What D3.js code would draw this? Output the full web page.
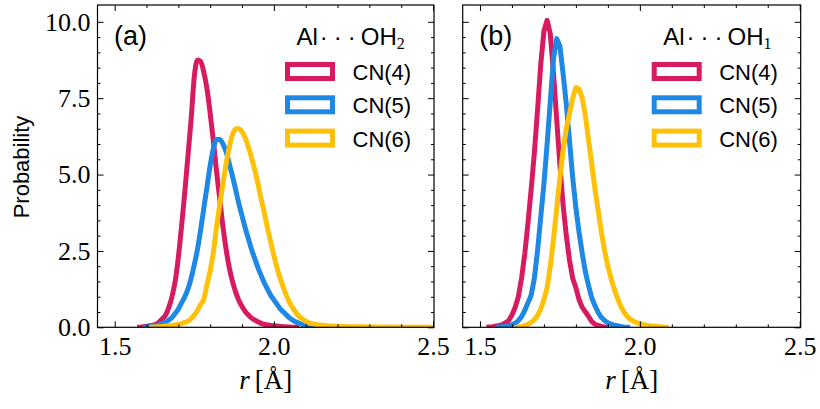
<!DOCTYPE html>
<html lang="en">
<head>
<meta charset="UTF-8">
<title>Al-O distance distributions</title>
<script src="https://d3js.org/d3.v7.min.js"></script>
<style>
  body { margin: 0; background: white; }
  .serif { font-family: "Liberation Serif", "DejaVu Serif", serif; fill: #000; }
  .sans { font-family: "Liberation Sans", Arial, sans-serif; fill: #000; }
</style>
</head>
<body>
<div id="chart"></div>
<script>
// ---- data (probability per 0.01 A bin) ----
const binWidth = 0.01;
const seriesLabels = ["CN(4)", "CN(5)", "CN(6)"];
const xTicks = [1.5, 2.0, 2.5];
const yTicks = [0, 2.5, 5, 7.5, 10];

// panel (a): Al...OH2
const aStarts = [1.58, 1.60, 1.62];
const aEnds = [2.07, 2.16, 2.55];
const aCN4 = [0.0, 0.02, 0.03, 0.05, 0.07, 0.1, 0.18, 0.28, 0.4, 0.65, 1.0, 1.5, 2.3, 3.3, 4.4, 5.6, 6.8,
  8.2, 8.75, 8.7, 8.35, 7.8, 7.0, 6.1, 5.1, 4.2, 3.3, 2.55, 1.95, 1.5, 1.15, 0.88, 0.68, 0.52, 0.4, 0.3,
  0.24, 0.18, 0.13, 0.1, 0.08, 0.06, 0.05, 0.04, 0.03, 0.02, 0.02, 0.01, 0.0];
const aCN5 = [0.01, 0.02, 0.04, 0.06, 0.08, 0.12, 0.17, 0.24, 0.32, 0.45, 0.6, 0.8, 1.0, 1.25, 1.6, 2.05,
  2.55, 3.2, 3.9, 4.6, 5.3, 5.85, 6.15, 6.15, 6.0, 5.75, 5.35, 4.95, 4.5, 4.05, 3.65, 3.25, 2.9, 2.55,
  2.25, 1.95, 1.7, 1.45, 1.25, 1.05, 0.9, 0.75, 0.6, 0.5, 0.4, 0.3, 0.23, 0.17, 0.13, 0.09, 0.06, 0.04,
  0.03, 0.02, 0.01, 0.0];
const aCN6 = [0.01, 0.01, 0.02, 0.03, 0.04, 0.05, 0.06, 0.08, 0.1, 0.12, 0.16, 0.2, 0.28, 0.4, 0.55, 0.75,
  0.92, 1.4, 1.85, 2.45, 3.3, 4.0, 4.7, 5.35, 5.9, 6.3, 6.5, 6.5, 6.4, 6.2, 5.9, 5.55, 5.15, 4.7, 4.2,
  3.75, 3.25, 2.8, 2.35, 1.95, 1.6, 1.3, 1.02, 0.8, 0.62, 0.47, 0.35, 0.27, 0.2, 0.15, 0.12, 0.1, 0.08,
  0.07, 0.06, 0.05, 0.04, 0.04, 0.03, 0.03, 0.03, 0.02, 0.02, 0.02, 0.02, 0.02, 0.02, 0.01, 0.01];

// panel (b): Al...OH1
const bStarts = [1.53, 1.56, 1.62];
const bEnds = [1.89, 1.96, 2.08];
const bCN4 = [0.01, 0.02, 0.04, 0.06, 0.09, 0.15, 0.22, 0.4, 0.65, 1.0, 1.6, 2.4, 3.4, 4.5, 5.7, 7.1, 8.6,
  9.7, 10.05, 9.6, 8.3, 6.8, 5.3, 4.0, 3.0, 2.2, 1.6, 1.3, 0.9, 0.65, 0.5, 0.35, 0.18, 0.1, 0.06, 0.03, 0.01];
const bCN5 = [0.01, 0.02, 0.04, 0.06, 0.08, 0.13, 0.22, 0.35, 0.55, 0.8, 1.05, 1.6, 2.5, 3.6, 4.7, 6.0, 7.4,
  8.8, 9.45, 9.2, 8.3, 7.3, 6.1, 4.9, 3.9, 3.1, 2.4, 1.8, 1.35, 0.95, 0.7, 0.48, 0.32, 0.22, 0.15, 0.1,
  0.07, 0.05, 0.03, 0.01];
const bCN6 = [0.01, 0.03, 0.06, 0.1, 0.16, 0.25, 0.38, 0.6, 0.9, 1.3, 2.0, 2.9, 3.9, 4.9, 5.8, 6.5, 7.0, 7.5,
  7.85, 7.8, 7.5, 6.9, 6.1, 5.3, 4.5, 3.8, 3.1, 2.5, 2.0, 1.6, 1.25, 0.95, 0.7, 0.5, 0.36, 0.26, 0.2,
  0.15, 0.12, 0.09, 0.07, 0.05, 0.04, 0.03, 0.02, 0.01];

const colors = ["#D81B60", "#1E88E5", "#FFC107"];

// ---- layout ----
const W = 820, H = 409;
const plotTop = 5, plotBottom = 327.3;
const xDomain = [1.446, 2.503];
const yDomain = [0, 10.55];

const svg = d3.select("#chart").append("svg")
  .attr("width", W).attr("height", H)
  .attr("viewBox", [0, 0, W, H]);

// turn a bin array into points, with zero at both ends
function toPoints(start, end, values) {
  const pts = [[start - binWidth, 0]];
  values.forEach((v, i) => pts.push([start + i * binWidth, v]));
  const last = start + (values.length - 1) * binWidth;
  if (end > last) pts.push([end, 0]);
  pts.push([end + binWidth, 0]);
  return pts;
}

function drawPanel(cfg) {
  const x = d3.scaleLinear().domain(xDomain).range([cfg.left, cfg.right]);
  const y = d3.scaleLinear().domain(yDomain).range([plotBottom, plotTop]);
  const g = svg.append("g");

  g.append("clipPath").attr("id", "clip-" + cfg.id)
    .append("rect")
    .attr("x", cfg.left).attr("y", plotTop)
    .attr("width", cfg.right - cfg.left).attr("height", plotBottom - plotTop);

  const line = d3.line()
    .x(d => x(d[0])).y(d => y(d[1]))
    .curve(cfg.curve);

  g.append("g").attr("clip-path", `url(#clip-${cfg.id})`)
    .selectAll("path")
    .data(cfg.series)
    .join("path")
    .attr("d", (s, i) => line(toPoints(cfg.starts[i], cfg.ends[i], s)))
    .attr("fill", "none")
    .attr("stroke", (s, i) => colors[i])
    .attr("stroke-width", 5)
    .attr("stroke-linejoin", "round");

  // ticks, all pointing inward
  const xMinor = d3.range(15, 26).map(v => v / 10).filter(v => !xTicks.includes(v));
  const yMinor = d3.range(0, 21).map(v => v / 2).filter(v => !yTicks.includes(v));
  const fmt = d3.format(".1f");

  const styleAxis = a => {
    a.select(".domain").remove();
    a.selectAll("line").attr("stroke", "#000").attr("stroke-width", 1);
    a.attr("font-family", null).attr("font-size", null);
  };

  const gxb = g.append("g").attr("transform", `translate(0,${plotBottom})`)
    .call(d3.axisBottom(x).tickValues(xTicks).tickSize(-6).tickPadding(9).tickFormat(fmt));
  gxb.selectAll("text").attr("class", "serif").attr("font-size", 26);
  styleAxis(gxb);
  styleAxis(g.append("g").attr("transform", `translate(0,${plotBottom})`)
    .call(d3.axisBottom(x).tickValues(xMinor).tickSize(-3).tickFormat("")));
  styleAxis(g.append("g").attr("transform", `translate(0,${plotTop})`)
    .call(d3.axisTop(x).tickValues(xTicks).tickSize(-6).tickFormat("")));
  styleAxis(g.append("g").attr("transform", `translate(0,${plotTop})`)
    .call(d3.axisTop(x).tickValues(xMinor).tickSize(-3).tickFormat("")));

  const gyl = g.append("g").attr("transform", `translate(${cfg.left},0)`)
    .call(d3.axisLeft(y).tickValues(yTicks).tickSize(-6).tickPadding(7)
      .tickFormat(cfg.yLabels ? fmt : ""));
  gyl.selectAll("text").attr("class", "serif").attr("font-size", 26);
  styleAxis(gyl);
  styleAxis(g.append("g").attr("transform", `translate(${cfg.left},0)`)
    .call(d3.axisLeft(y).tickValues(yMinor).tickSize(-3).tickFormat("")));
  styleAxis(g.append("g").attr("transform", `translate(${cfg.right},0)`)
    .call(d3.axisRight(y).tickValues(yTicks).tickSize(-6).tickFormat("")));
  styleAxis(g.append("g").attr("transform", `translate(${cfg.right},0)`)
    .call(d3.axisRight(y).tickValues(yMinor).tickSize(-3).tickFormat("")));

  // frame
  g.append("rect")
    .attr("x", cfg.left).attr("y", plotTop)
    .attr("width", cfg.right - cfg.left).attr("height", plotBottom - plotTop)
    .attr("fill", "none").attr("stroke", "#000").attr("stroke-width", 1.2);

  // panel letter
  g.append("text").attr("class", "sans")
    .attr("x", cfg.left + 16.5).attr("y", 45)
    .attr("font-size", 27)
    .text(cfg.letter);

  // legend title Al...OHn
  const t = g.append("text").attr("class", "sans")
    .attr("x", cfg.right - 137.5).attr("y", 45)
    .attr("font-size", 24);
  t.append("tspan").text("Al");
  t.append("tspan").attr("dx", 2).attr("letter-spacing", 6).text("···");
  t.append("tspan").attr("dx", -1).text("OH");
  t.append("tspan").attr("class", "serif").attr("font-size", 16).attr("dy", 3.5).text(cfg.sub);

  // legend entries
  const rowY = i => plotTop + 59.5 + i * 33.3;
  g.selectAll("rect.leg")
    .data(seriesLabels)
    .join("rect")
    .attr("class", "leg")
    .attr("x", cfg.right - 146.5).attr("y", (d, i) => rowY(i))
    .attr("width", 45).attr("height", 14)
    .attr("fill", "none")
    .attr("stroke", (d, i) => colors[i])
    .attr("stroke-width", 5);
  g.selectAll("text.leg")
    .data(seriesLabels)
    .join("text")
    .attr("class", "leg sans")
    .attr("x", cfg.right - 81.5).attr("y", (d, i) => rowY(i) + 15.5)
    .attr("font-size", 22)
    .text(d => d);

  // x label
  const xl = g.append("text").attr("class", "serif")
    .attr("x", (cfg.left + cfg.right) / 2).attr("y", 389)
    .attr("text-anchor", "middle")
    .attr("font-size", 27);
  xl.append("tspan").attr("font-style", "italic").text("r");
  xl.append("tspan").attr("dx", 5).text("[Å]");
}

drawPanel({
  id: "a", left: 97.5, right: 434, letter: "(a)", sub: "2", yLabels: true,
  series: [aCN4, aCN5, aCN6], starts: aStarts, ends: aEnds, curve: d3.curveMonotoneX
});
drawPanel({
  id: "b", left: 462.7, right: 800.7, letter: "(b)", sub: "1", yLabels: false,
  series: [bCN4, bCN5, bCN6], starts: bStarts, ends: bEnds, curve: d3.curveLinear
});

// y label
svg.append("text").attr("class", "sans")
  .attr("transform", "translate(29,167) rotate(-90)")
  .attr("text-anchor", "middle")
  .attr("font-size", 22)
  .text("Probability");
</script>
</body>
</html>
